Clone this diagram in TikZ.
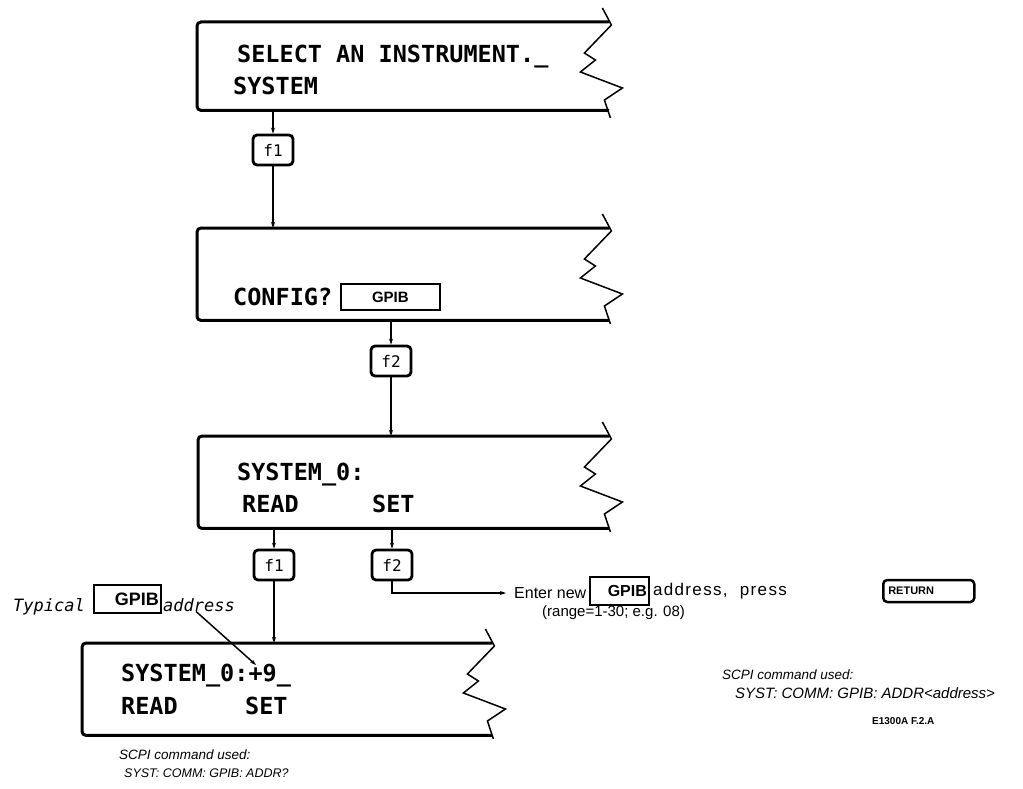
\documentclass[tikz,border=0pt]{standalone}
\usepackage{fontspec}
\usetikzlibrary{arrows.meta}
\newfontfamily\lcdfont{DejaVu Sans Mono}
\newfontfamily\plotfont{DejaVu Sans Mono}
\newfontfamily\italfont{Liberation Sans}
\newfontfamily\arialfont{Liberation Sans}
\newfontfamily\arialwide{Liberation Sans}[LetterSpace=8]

\tikzset{
  boxarea/.style={draw=none, inner sep=0pt, anchor=north west},
  boxline/.style={line width=3pt, rounded corners=4pt},
  zigline/.style={line width=1.5pt, line join=miter},
  lcd/.style={font=\lcdfont\bfseries\fontsize{23.5}{23.5}\selectfont, anchor=base west, inner sep=0pt},
  key/.style={draw, line width=2.8pt, rounded corners=4pt, minimum width=40pt, minimum height=30pt, inner sep=0pt, font=\plotfont\fontsize{16}{16}\selectfont},
  gpib/.style={draw, line width=1.8pt, inner ysep=0pt, font=\arialfont\bfseries\fontsize{15}{15}\selectfont},
  plot/.style={font=\arialfont\fontsize{16}{16}\selectfont, inner sep=0pt},
  ital/.style={font=\italfont\itshape\fontsize{13.5}{13.5}\selectfont, anchor=base west, inner sep=0pt},
  monoital/.style={font=\plotfont\itshape\fontsize{17}{17}\selectfont, anchor=base west, inner sep=0pt},
  conn/.style={line width=1.5pt, -{Stealth[length=6pt,width=4pt]}},
}

\newcommand\tornoutline[1]{%
  \draw[boxline] ([xshift=5pt]#1.north east) -- (#1.north west) -- (#1.south west) -- ([xshift=4.7pt]#1.south east);
  \draw[zigline] ([shift={(-2,-14)}]#1.north east) -- ([shift={(7,3)}]#1.north east)
    -- ([shift={(-20,31)}]#1.north east) -- ([shift={(-9,38)}]#1.north east)
    -- ([shift={(-24,50)}]#1.north east) -- ([shift={(18,66)}]#1.north east)
    -- ([shift={(0,78)}]#1.north east) -- ([shift={(6,96)}]#1.north east);
}

\begin{document}
\begin{tikzpicture}[x=1pt, y=-1pt]
\useasboundingbox (0,0) rectangle (1023,789);

% screens
\node[boxarea, minimum width=407pt, minimum height=88pt] (box1) at (197,22) {};
\node[boxarea, minimum width=407pt, minimum height=92pt] (box2) at (197,228) {};
\node[boxarea, minimum width=406pt, minimum height=92pt] (box3) at (198,436) {};
\node[boxarea, minimum width=405pt, minimum height=92pt] (box4) at (82,643) {};
\tornoutline{box1}
\tornoutline{box2}
\tornoutline{box3}
\tornoutline{box4}

% screen texts
\node[lcd] (t1a) at (237,63) {SELECT AN INSTRUMENT.\_};
\node[lcd] (t1b) at (233,95) {SYSTEM};
\node[lcd] (t2a) at (233,305) {CONFIG?};
\node[gpib, minimum width=99pt, minimum height=26pt, anchor=west] (g1) at (340,297) {GPIB};
\node[lcd] (t3a) at (237,480) {SYSTEM\_0:};
\node[lcd] (t3b) at (242,512) {READ};
\node[lcd] (t3c) at (372,512) {SET};
\node[lcd] (t4a) at (121,681) {SYSTEM\_0:+9\_};
\node[lcd] (t4b) at (121,714) {READ};
\node[lcd] (t4c) at (245,714) {SET};

% keys
\node[key] (k1) at (273,150) {f1};
\node[key] (k2) at (391,361) {f2};
\node[key] (k3) at (274,565) {f1};
\node[key] (k4) at (392,565) {f2};

% connectors
\draw[conn] (k1 |- box1.south) -- (k1.north);
\draw[conn] (k1.south) -- (k1 |- box2.north);
\draw[conn] (k2 |- box2.south) -- (k2.north);
\draw[conn] (k2.south) -- (k2 |- box3.north);
\draw[conn] (k3 |- box3.south) -- (k3.north);
\draw[conn] (k3.south) -- (k3 |- box4.north);
\draw[conn] (k4 |- box3.south) -- (k4.north);

% enter new address
\node[plot, anchor=west] (enter) at (514,593) {Enter new};
\draw[conn] (k4.south) |- ([xshift=-8pt]enter.west);
\node[gpib, minimum width=59pt, minimum height=28pt, anchor=west, text width=55pt, align=right, inner xsep=2pt, font=\arialfont\bfseries\fontsize{16}{16}\selectfont] (g2) at (589,591) {GPIB};
\node[plot, font=\arialwide\fontsize{17}{17}\selectfont, anchor=west, inner xsep=3pt] (addr) at (g2.east) {address,\ \ press};
\node[draw, line width=2.5pt, rounded corners=4pt, minimum width=91pt, minimum height=22pt, anchor=west, text width=81pt, inner xsep=5pt, inner ysep=0pt, align=left, font=\arialfont\bfseries\fontsize{11}{11}\selectfont] (ret) at (882,591) {RETURN};
\node[plot, font=\arialfont\fontsize{15}{15}\selectfont, anchor=base west] (range) at (542,616) {(range=1-30; e.g. 08)};

% typical annotation
\node[monoital] (typ) at (13,611) {Typical};
\node[gpib, minimum width=67pt, minimum height=28pt, text width=63pt, align=right, inner xsep=2pt, anchor=west, font=\arialfont\bfseries\fontsize{18}{18}\selectfont] (g3) at (93,599) {GPIB};
\node[monoital] (typaddr) at (163,611) {address};
\coordinate (plus) at (256,665);
\draw[conn] ([xshift=-3pt]typaddr.south) -- (plus);

% SCPI notes
\node[ital] (s1a) at (119,759) {SCPI command used:};
\node[ital, font=\italfont\itshape\fontsize{12.5}{12.5}\selectfont] (s1b) at (124,777) {SYST: COMM: GPIB: ADDR?};
\node[ital] (s2a) at (722,679) {SCPI command used:};
\node[ital, font=\italfont\itshape\fontsize{15}{15}\selectfont] (s2b) at (735,698) {SYST: COMM: GPIB: ADDR<address>};
\node[anchor=base west, inner sep=0pt, font=\arialfont\bfseries\fontsize{10}{10}\selectfont] (fig) at (872,724) {E1300A F.2.A};
\end{tikzpicture}
\end{document}
